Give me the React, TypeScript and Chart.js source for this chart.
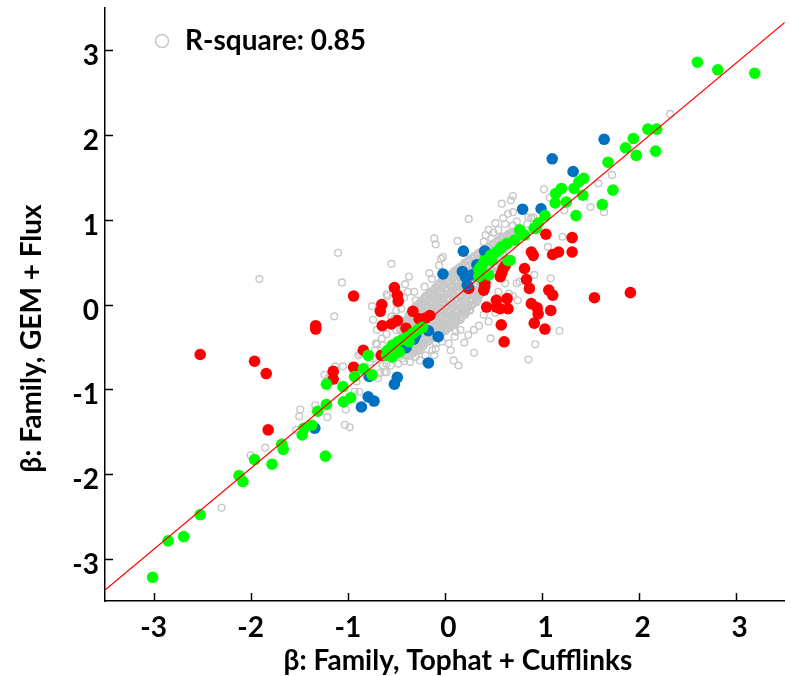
import React, { useEffect, useRef } from 'react';
import { Chart, registerables } from 'chart.js';

Chart.register(...registerables);

const tickValues = [-3, -2, -1, 0, 1, 2, 3];
const xTitle = 'β: Family, Tophat + Cufflinks';
const yTitle = 'β: Family, GEM + Flux';
const legendLabel = 'R-square: 0.85';

const fitLine: [number, number][] = [[-3.5, -3.37], [3.5, 3.33]];

const grayCore: [number, number][] = [
  [-0.46,-0.30],[-0.44,-0.37],[-0.45,-0.44],[-0.47,-0.51],[-0.44,-0.58],
  [-0.40,-0.18],[-0.41,-0.25],[-0.39,-0.32],[-0.41,-0.39],[-0.40,-0.46],[-0.38,-0.53],[-0.41,-0.60],
  [-0.35,-0.09],[-0.36,-0.16],[-0.34,-0.23],[-0.35,-0.30],[-0.36,-0.37],[-0.34,-0.44],[-0.35,-0.51],[-0.33,-0.58],
  [-0.30,-0.02],[-0.31,-0.09],[-0.29,-0.16],[-0.30,-0.23],[-0.31,-0.30],[-0.29,-0.37],[-0.30,-0.44],[-0.28,-0.51],[-0.31,-0.56],
  [-0.25,0.04],[-0.26,-0.03],[-0.24,-0.10],[-0.25,-0.17],[-0.26,-0.24],[-0.24,-0.31],[-0.25,-0.38],[-0.23,-0.45],[-0.26,-0.52],
  [-0.20,0.10],[-0.21,0.03],[-0.19,-0.04],[-0.20,-0.11],[-0.21,-0.18],[-0.19,-0.25],[-0.20,-0.32],[-0.18,-0.39],[-0.21,-0.46],
  [-0.15,0.15],[-0.16,0.08],[-0.14,0.01],[-0.15,-0.06],[-0.16,-0.13],[-0.14,-0.20],[-0.15,-0.27],[-0.13,-0.34],[-0.16,-0.41],
  [-0.10,0.20],[-0.11,0.13],[-0.09,0.06],[-0.10,-0.01],[-0.11,-0.08],[-0.09,-0.15],[-0.10,-0.22],[-0.08,-0.29],[-0.11,-0.36],
  [-0.05,0.26],[-0.06,0.19],[-0.04,0.12],[-0.05,0.05],[-0.06,-0.02],[-0.04,-0.09],[-0.05,-0.16],[-0.03,-0.23],[-0.06,-0.30],[-0.04,-0.35],
  [0.00,0.31],[-0.01,0.24],[0.01,0.17],[0.00,0.10],[-0.01,0.03],[0.01,-0.04],[0.00,-0.11],[0.02,-0.18],[-0.01,-0.25],[0.01,-0.31],
  [0.05,0.35],[0.04,0.28],[0.06,0.21],[0.05,0.14],[0.04,0.07],[0.06,0.00],[0.05,-0.07],[0.07,-0.14],[0.04,-0.21],[0.06,-0.27],
  [0.10,0.40],[0.09,0.33],[0.11,0.26],[0.10,0.19],[0.09,0.12],[0.11,0.05],[0.10,-0.02],[0.12,-0.09],[0.09,-0.16],[0.11,-0.22],
  [0.15,0.44],[0.14,0.37],[0.16,0.30],[0.15,0.23],[0.14,0.16],[0.16,0.09],[0.15,0.02],[0.17,-0.05],[0.14,-0.12],[0.16,-0.18],
  [0.20,0.49],[0.19,0.42],[0.21,0.35],[0.20,0.28],[0.19,0.21],[0.21,0.14],[0.20,0.07],[0.22,0.00],[0.19,-0.07],[0.21,-0.12],
  [0.25,0.53],[0.24,0.46],[0.26,0.39],[0.25,0.32],[0.24,0.25],[0.26,0.18],[0.25,0.11],[0.27,0.04],[0.24,-0.03],[0.26,-0.07],
  [0.30,0.57],[0.29,0.50],[0.31,0.43],[0.30,0.36],[0.29,0.29],[0.31,0.22],[0.30,0.15],[0.32,0.08],[0.29,0.01],
  [0.35,0.61],[0.34,0.54],[0.36,0.47],[0.35,0.40],[0.34,0.33],[0.36,0.26],[0.35,0.19],[0.37,0.12],[0.34,0.06],
  [0.40,0.65],[0.39,0.58],[0.41,0.51],[0.40,0.44],[0.42,0.37],[0.40,0.30],[0.41,0.23],[0.39,0.16],
  [0.45,0.68],[0.44,0.61],[0.46,0.54],[0.45,0.47],[0.47,0.40],[0.45,0.33],[0.44,0.26],
  [0.50,0.72],[0.49,0.65],[0.51,0.58],[0.50,0.51],[0.52,0.44],[0.50,0.37],
  [0.55,0.76],[0.56,0.69],[0.54,0.62],[0.55,0.55],[0.57,0.48],
  [0.60,0.80],[0.61,0.73],[0.59,0.66],[0.60,0.59],
  [0.65,0.82],[0.66,0.75],[0.64,0.68],
  [0.70,0.86],[0.71,0.79],
];

const grayCoreFill: [number, number][] = [
  [-0.42,-0.22],[-0.43,-0.29],[-0.42,-0.36],[-0.43,-0.43],[-0.41,-0.50],[-0.43,-0.57],
  [-0.37,-0.12],[-0.38,-0.19],[-0.37,-0.26],[-0.38,-0.33],[-0.37,-0.40],[-0.38,-0.47],[-0.37,-0.54],[-0.38,-0.60],
  [-0.32,-0.05],[-0.33,-0.12],[-0.32,-0.19],[-0.33,-0.26],[-0.32,-0.33],[-0.33,-0.40],[-0.32,-0.47],[-0.33,-0.54],
  [-0.27,0.01],[-0.28,-0.06],[-0.27,-0.13],[-0.28,-0.20],[-0.27,-0.27],[-0.28,-0.34],[-0.27,-0.41],[-0.28,-0.48],[-0.27,-0.54],
  [-0.22,0.07],[-0.23,0.00],[-0.22,-0.07],[-0.23,-0.14],[-0.22,-0.21],[-0.23,-0.28],[-0.22,-0.35],[-0.23,-0.42],[-0.22,-0.49],
  [-0.17,0.12],[-0.18,0.05],[-0.17,-0.02],[-0.18,-0.09],[-0.17,-0.16],[-0.18,-0.23],[-0.17,-0.30],[-0.18,-0.37],[-0.17,-0.44],
  [-0.12,0.17],[-0.13,0.10],[-0.12,0.03],[-0.13,-0.04],[-0.12,-0.11],[-0.13,-0.18],[-0.12,-0.25],[-0.13,-0.32],[-0.12,-0.39],
  [-0.07,0.23],[-0.08,0.16],[-0.07,0.09],[-0.08,0.02],[-0.07,-0.05],[-0.08,-0.12],[-0.07,-0.19],[-0.08,-0.26],[-0.07,-0.33],
  [-0.02,0.28],[-0.03,0.21],[-0.02,0.14],[-0.03,0.07],[-0.02,0.00],[-0.03,-0.07],[-0.02,-0.14],[-0.03,-0.21],[-0.02,-0.28],[-0.03,-0.33],
  [0.03,0.33],[0.02,0.26],[0.03,0.19],[0.02,0.12],[0.03,0.05],[0.02,-0.02],[0.03,-0.09],[0.02,-0.16],[0.03,-0.23],[0.02,-0.29],
  [0.08,0.37],[0.07,0.30],[0.08,0.23],[0.07,0.16],[0.08,0.09],[0.07,0.02],[0.08,-0.05],[0.07,-0.12],[0.08,-0.19],[0.07,-0.25],
  [0.13,0.42],[0.12,0.35],[0.13,0.28],[0.12,0.21],[0.13,0.14],[0.12,0.07],[0.13,0.00],[0.12,-0.07],[0.13,-0.14],[0.12,-0.20],
  [0.18,0.46],[0.17,0.39],[0.18,0.32],[0.17,0.25],[0.18,0.18],[0.17,0.11],[0.18,0.04],[0.17,-0.03],[0.18,-0.10],[0.17,-0.15],
  [0.23,0.51],[0.22,0.44],[0.23,0.37],[0.22,0.30],[0.23,0.23],[0.22,0.16],[0.23,0.09],[0.22,0.02],[0.23,-0.05],[0.22,-0.09],
  [0.28,0.55],[0.27,0.48],[0.28,0.41],[0.27,0.34],[0.28,0.27],[0.27,0.20],[0.28,0.13],[0.27,0.06],[0.28,-0.01],
  [0.33,0.59],[0.32,0.52],[0.33,0.45],[0.32,0.38],[0.33,0.31],[0.32,0.24],[0.33,0.17],[0.32,0.10],[0.33,0.03],
  [0.38,0.63],[0.37,0.56],[0.38,0.49],[0.37,0.42],[0.38,0.35],[0.37,0.28],[0.38,0.21],[0.37,0.14],
  [0.43,0.66],[0.42,0.59],[0.43,0.52],[0.42,0.45],[0.43,0.38],[0.42,0.31],[0.43,0.24],
  [0.48,0.70],[0.47,0.63],[0.48,0.56],[0.47,0.49],[0.48,0.42],[0.47,0.35],
  [0.53,0.74],[0.52,0.67],[0.53,0.60],[0.52,0.53],[0.53,0.46],
  [0.58,0.78],[0.57,0.71],[0.58,0.64],[0.57,0.57],
  [0.63,0.81],[0.62,0.74],[0.63,0.67],
  [0.68,0.84],[0.67,0.77],
];

const grayOutliers: [number, number][] = [
  [-1.91,0.30],[-1.10,0.61],[-1.06,0.26],[-1.14,-0.14],[-0.55,0.48],[-0.75,-0.02],[-0.74,-0.18],[-0.60,0.12],
  [-0.55,-0.14],[-0.37,0.33],[-0.41,0.24],[-0.16,0.37],[-0.135,0.30],[-0.06,0.46],[-0.02,0.56],[-0.04,0.54],
  [-0.095,0.71],[-0.11,0.78],[0.13,0.75],[0.245,1.01],[-0.59,0.10],[-0.50,-0.07],[-0.52,-0.165],[-0.315,0.15],
  [-0.30,0.05],[-0.21,0.21],[-0.70,-0.47],[-0.72,-0.54],[-0.87,-0.58],[-0.74,-0.64],[-0.64,-0.72],[-0.60,-0.80],
  [-0.67,-0.81],[-1.05,-0.73],[-1.24,-0.83],[-1.20,-0.87],[-1.13,-0.73],[-0.42,-0.67],[-0.36,-0.68],[-0.25,-0.54],
  [-0.20,-0.60],[-0.13,-0.54],[-0.09,-0.46],[0.04,-0.46],[0.06,-0.54],[0.09,-0.66],[0.47,-0.40],[0.30,-0.57],
  [0.14,-0.72],[-0.11,-0.60],[-0.095,-0.52],[-0.03,-0.44],[0.10,-0.38],[0.11,-0.32],[0.04,-0.265],[0.09,-0.245],
  [0.93,-0.47],[0.86,-0.65],[1.18,-0.31],[2.32,2.25],[1.72,1.53],[1.58,1.43],[1.50,1.15],[1.64,1.09],
  [1.02,1.36],[1.08,1.26],[1.23,1.11],[0.70,1.28],[0.585,1.19],[0.89,1.02],[0.70,1.09],[0.68,1.23],
  [1.21,0.80],[1.06,0.68],[1.09,0.58],[0.92,0.35],[1.09,0.31],[0.66,0.13],[0.77,0.27],[0.74,0.25],
  [-2.30,-2.40],[-2.00,-1.78],[-1.85,-1.69],[-1.53,-1.48],[-1.49,-1.24],[-1.50,-1.32],[-1.335,-1.19],[-1.21,-1.33],
  [-1.02,-1.24],[-1.03,-1.42],[-0.98,-1.45],[-0.91,-0.91],[-0.88,-1.03],[-0.93,-1.03],[-0.71,-0.46],[-0.64,-0.48],
  [-0.60,-0.70],[-0.62,-0.80],[-0.69,-0.87],[-0.77,-0.68],[-0.89,-0.60],
  [0.62,0.95],[0.70,0.93],[0.78,0.90],[0.55,0.88],[0.50,0.85],[0.48,0.78],[0.58,0.80],[0.66,0.84],
  [0.74,0.98],[0.85,0.95],[0.60,1.02],[0.52,0.96],[0.45,0.88],[0.42,0.82],[0.40,0.74],[0.86,1.03],
  [0.91,1.03],[0.65,1.07],
  [0.55,0.15],[0.62,0.25],[0.70,0.10],[0.52,-0.10],[0.45,-0.20],[0.35,-0.25],[0.40,-0.12],[0.58,0.30],[0.75,0.05],
  [-0.45,-0.05],[-0.50,0.02],[-0.42,0.08],[-0.55,-0.25],[-0.60,-0.35],[-0.50,-0.30],[-0.45,-0.20],[-0.38,0.15],
  [-0.65,-0.40],[-0.70,-0.30],
  [-0.55,-0.50],[-0.50,-0.62],[-0.48,-0.70],[-0.56,-0.72],[-0.62,-0.60],[-0.44,-0.64],[-0.30,-0.62],[-0.26,-0.66],
  [0.20,-0.45],[0.24,-0.36],[0.30,-0.30],[0.16,-0.30],
];

const redPoints: [number, number][] = [
  [1.91,0.14],[1.54,0.08],[1.31,0.79],[1.31,0.62],[1.17,0.62],[1.11,0.59],[1.04,0.83],[0.89,0.62],
  [0.91,0.58],[0.82,0.425],[0.84,0.295],[0.87,0.19],[0.62,0.46],[0.60,0.42],[0.585,0.37],[0.57,0.33],
  [0.41,0.25],[0.40,0.17],[0.41,0.21],[0.245,0.19],[0.64,0.07],[0.53,0.05],[0.43,-0.03],[0.53,-0.03],
  [0.65,-0.05],[0.57,-0.05],[0.89,0.01],[0.95,-0.04],[0.96,-0.11],[1.09,-0.07],[1.07,0.17],[1.11,0.11],
  [0.92,-0.22],[1.03,-0.29],[0.58,-0.24],[0.61,-0.44],
  [-2.52,-0.59],[-1.96,-0.67],[-1.84,-0.815],[-1.82,-1.48],[-1.33,-0.25],[-1.33,-0.29],[-0.94,0.10],
  [-0.52,0.20],[-0.49,0.11],[-0.48,0.04],[-0.65,0.00],[-0.665,-0.08],[-0.645,-0.25],[-0.55,-0.23],
  [-0.49,-0.19],[-0.33,-0.08],[-0.265,-0.17],[-0.155,-0.13],[-0.20,-0.16],[-0.40,-0.28],[-0.84,-0.54],
  [-0.655,-0.60],[-1.15,-0.79],[-1.15,-0.88],[-0.94,-0.74],
];

const bluePoints: [number, number][] = [
  [1.64,1.95],[1.105,1.72],[1.32,1.57],[0.80,1.125],[0.99,1.13],[0.19,0.63],[0.41,0.63],[-0.02,0.36],
  [0.18,0.39],[0.21,0.33],[0.28,0.35],[0.33,0.47],[0.23,0.23],[-0.17,-0.31],[-0.07,-0.38],[-0.40,-0.51],
  [-0.32,-0.41],[-0.30,-0.36],[-0.17,-0.69],[-0.49,-0.86],[-0.52,-0.94],[-0.78,-0.85],[-0.86,-1.21],
  [-0.79,-1.09],[-0.73,-1.14],[-1.34,-1.46],
];

const greenPoints: [number, number][] = [
  [2.60,2.86],[2.81,2.77],[3.19,2.73],[2.09,2.07],[2.18,2.07],[1.94,1.96],[1.86,1.85],[1.97,1.76],
  [2.17,1.81],[1.68,1.68],[1.43,1.49],[1.38,1.45],[1.33,1.37],[1.20,1.37],[1.14,1.31],[1.135,1.20],
  [1.25,1.21],[1.42,1.29],[1.73,1.35],[1.62,1.18],[1.35,1.05],[1.03,1.05],[0.96,0.96],[0.92,0.90],
  [0.77,0.88],[0.94,0.90],[0.82,0.82],[0.72,0.76],[0.64,0.72],[0.585,0.68],[0.53,0.62],[0.47,0.58],
  [0.41,0.52],[0.38,0.46],[0.35,0.41],[0.45,0.35],[0.67,0.52],[0.57,0.66],[0.48,0.52],[0.36,0.43],
  [0.35,0.33],[0.65,0.52],
  [-0.23,-0.27],[-0.28,-0.30],[-0.33,-0.34],[-0.38,-0.38],[-0.43,-0.41],[-0.485,-0.44],[-0.54,-0.48],
  [-0.59,-0.54],[-0.60,-0.60],[-0.54,-0.62],[-0.47,-0.56],[-0.37,-0.44],[-0.79,-0.60],[-0.84,-0.76],
  [-0.93,-0.85],[-0.75,-0.83],[-1.05,-0.97],[-1.22,-0.94],[-1.045,-1.15],[-0.97,-1.10],[-1.22,-1.18],
  [-1.31,-1.26],[-1.37,-1.425],[-1.45,-1.46],[-1.47,-1.54],[-1.23,-1.79],[-1.665,-1.71],[-1.68,-1.65],
  [-1.78,-1.885],[-1.96,-1.83],[-2.08,-2.09],[-2.12,-2.02],[-2.52,-2.48],[-2.69,-2.74],[-2.85,-2.79],
  [-3.01,-3.22],
];

const FONT = "Lato, 'Noto Sans', 'DejaVu Sans', sans-serif";
const FONT_SIZE = 28;
const GRAY = '#c8c8c8';
const toXY = (pts: [number, number][]) => pts.map(([x, y]) => ({ x, y }));

const decorations = {
  id: 'decorations',
  afterDraw(chart: any) {
    const { ctx, chartArea, scales } = chart;
    ctx.save();
    ctx.strokeStyle = '#000';
    ctx.lineWidth = 1.5;
    tickValues.forEach((v) => {
      const px = Math.round(scales.x.getPixelForValue(v)) + 0.5;
      ctx.beginPath();
      ctx.moveTo(px, chartArea.bottom);
      ctx.lineTo(px, chartArea.bottom - 8);
      ctx.stroke();
      const py = Math.round(scales.y.getPixelForValue(v)) + 0.5;
      ctx.beginPath();
      ctx.moveTo(chartArea.left, py);
      ctx.lineTo(chartArea.left + 8, py);
      ctx.stroke();
    });

    ctx.fillStyle = '#000';
    ctx.font = `bold ${FONT_SIZE}px ${FONT}`;
    ctx.textAlign = 'center';
    ctx.textBaseline = 'alphabetic';
    const cx = (chartArea.left + chartArea.right) / 2;
    ctx.fillText(xTitle, cx + 13, chart.height - 6);

    ctx.save();
    const cy = (chartArea.top + chartArea.bottom) / 2;
    ctx.translate(41, cy + 34);
    ctx.rotate(-Math.PI / 2);
    ctx.fillText(yTitle, 0, 0);
    ctx.restore();

    // legend
    const lx = chartArea.left + 57;
    const ly = chartArea.top + 33;
    ctx.beginPath();
    ctx.strokeStyle = GRAY;
    ctx.lineWidth = 1.5;
    ctx.arc(lx, ly, 6.5, 0, Math.PI * 2);
    ctx.stroke();
    ctx.fillStyle = '#000';
    ctx.textAlign = 'left';
    ctx.fillText(legendLabel, lx + 23, ly + 9);
    ctx.restore();
  },
};

export default function App() {
  const ref = useRef<HTMLCanvasElement | null>(null);

  useEffect(() => {
    if (!ref.current) return;
    const tickFont = { family: FONT, size: FONT_SIZE, weight: 'bold' as const };
    const dot = { borderWidth: 0, pointRadius: 5.8 };
    const chart = new Chart(ref.current, {
      type: 'scatter',
      data: {
        datasets: [
          {
            type: 'line',
            label: 'fit',
            data: toXY(fitLine),
            borderColor: '#ff0000',
            borderWidth: 1.3,
            pointRadius: 0,
            fill: false,
            order: 0,
          } as any,
          { label: 'green', data: toXY(greenPoints), backgroundColor: '#00ff00', ...dot, order: 1 },
          { label: 'blue', data: toXY(bluePoints), backgroundColor: '#0070c0', ...dot, order: 2 },
          { label: 'red', data: toXY(redPoints), backgroundColor: '#ff0000', ...dot, order: 3 },
          {
            label: legendLabel,
            data: toXY(grayOutliers),
            backgroundColor: 'rgba(0,0,0,0)',
            borderColor: GRAY,
            borderWidth: 1.4,
            pointRadius: 3.4,
            order: 4,
          },
          {
            label: legendLabel + ' core',
            data: toXY([...grayCore, ...grayCoreFill]),
            backgroundColor: 'rgba(0,0,0,0)',
            borderColor: GRAY,
            borderWidth: 2.2,
            pointRadius: 3.1,
            order: 5,
          },
        ],
      },
      options: {
        responsive: false,
        animation: false,
        devicePixelRatio: 1,
        events: [],
        layout: { padding: { top: 8, left: 0, right: 0, bottom: 0 } },
        plugins: {
          legend: { display: false },
          tooltip: { enabled: false },
        },
        scales: {
          x: {
            type: 'linear',
            min: -3.5,
            max: 3.5,
            afterBuildTicks: (s: any) => {
              s.ticks = tickValues.map((v) => ({ value: v }));
            },
            afterFit: (s: any) => {
              s.height = 75;
              s.paddingLeft = 0;
              s.paddingRight = 0;
            },
            grid: { display: false, drawTicks: false },
            border: { display: true, color: '#000', width: 1.5 },
            ticks: {
              color: '#000',
              font: tickFont,
              padding: 10,
              maxRotation: 0,
              autoSkip: false,
              callback: (v: any) => (Number(v) >= 0 ? '\u2009\u2009' + v : String(v)),
            },
          },
          y: {
            type: 'linear',
            min: -3.5,
            max: 3.5,
            afterBuildTicks: (s: any) => {
              s.ticks = tickValues.map((v) => ({ value: v }));
            },
            afterFit: (s: any) => {
              s.width = 105;
              s.paddingTop = 0;
              s.paddingBottom = 0;
            },
            grid: { display: false, drawTicks: false },
            border: { display: true, color: '#000', width: 1.5 },
            ticks: {
              color: '#000',
              font: tickFont,
              padding: 6,
              labelOffset: 6,
              autoSkip: false,
              callback: (v: any) => String(v),
            },
          },
        },
      },
      plugins: [decorations],
    });
    return () => chart.destroy();
  }, []);

  return (
    <canvas
      ref={ref}
      width={791}
      height={676}
      style={{ position: 'absolute', left: 0, top: 0, display: 'block', width: 791, height: 676 }}
    />
  );
}
